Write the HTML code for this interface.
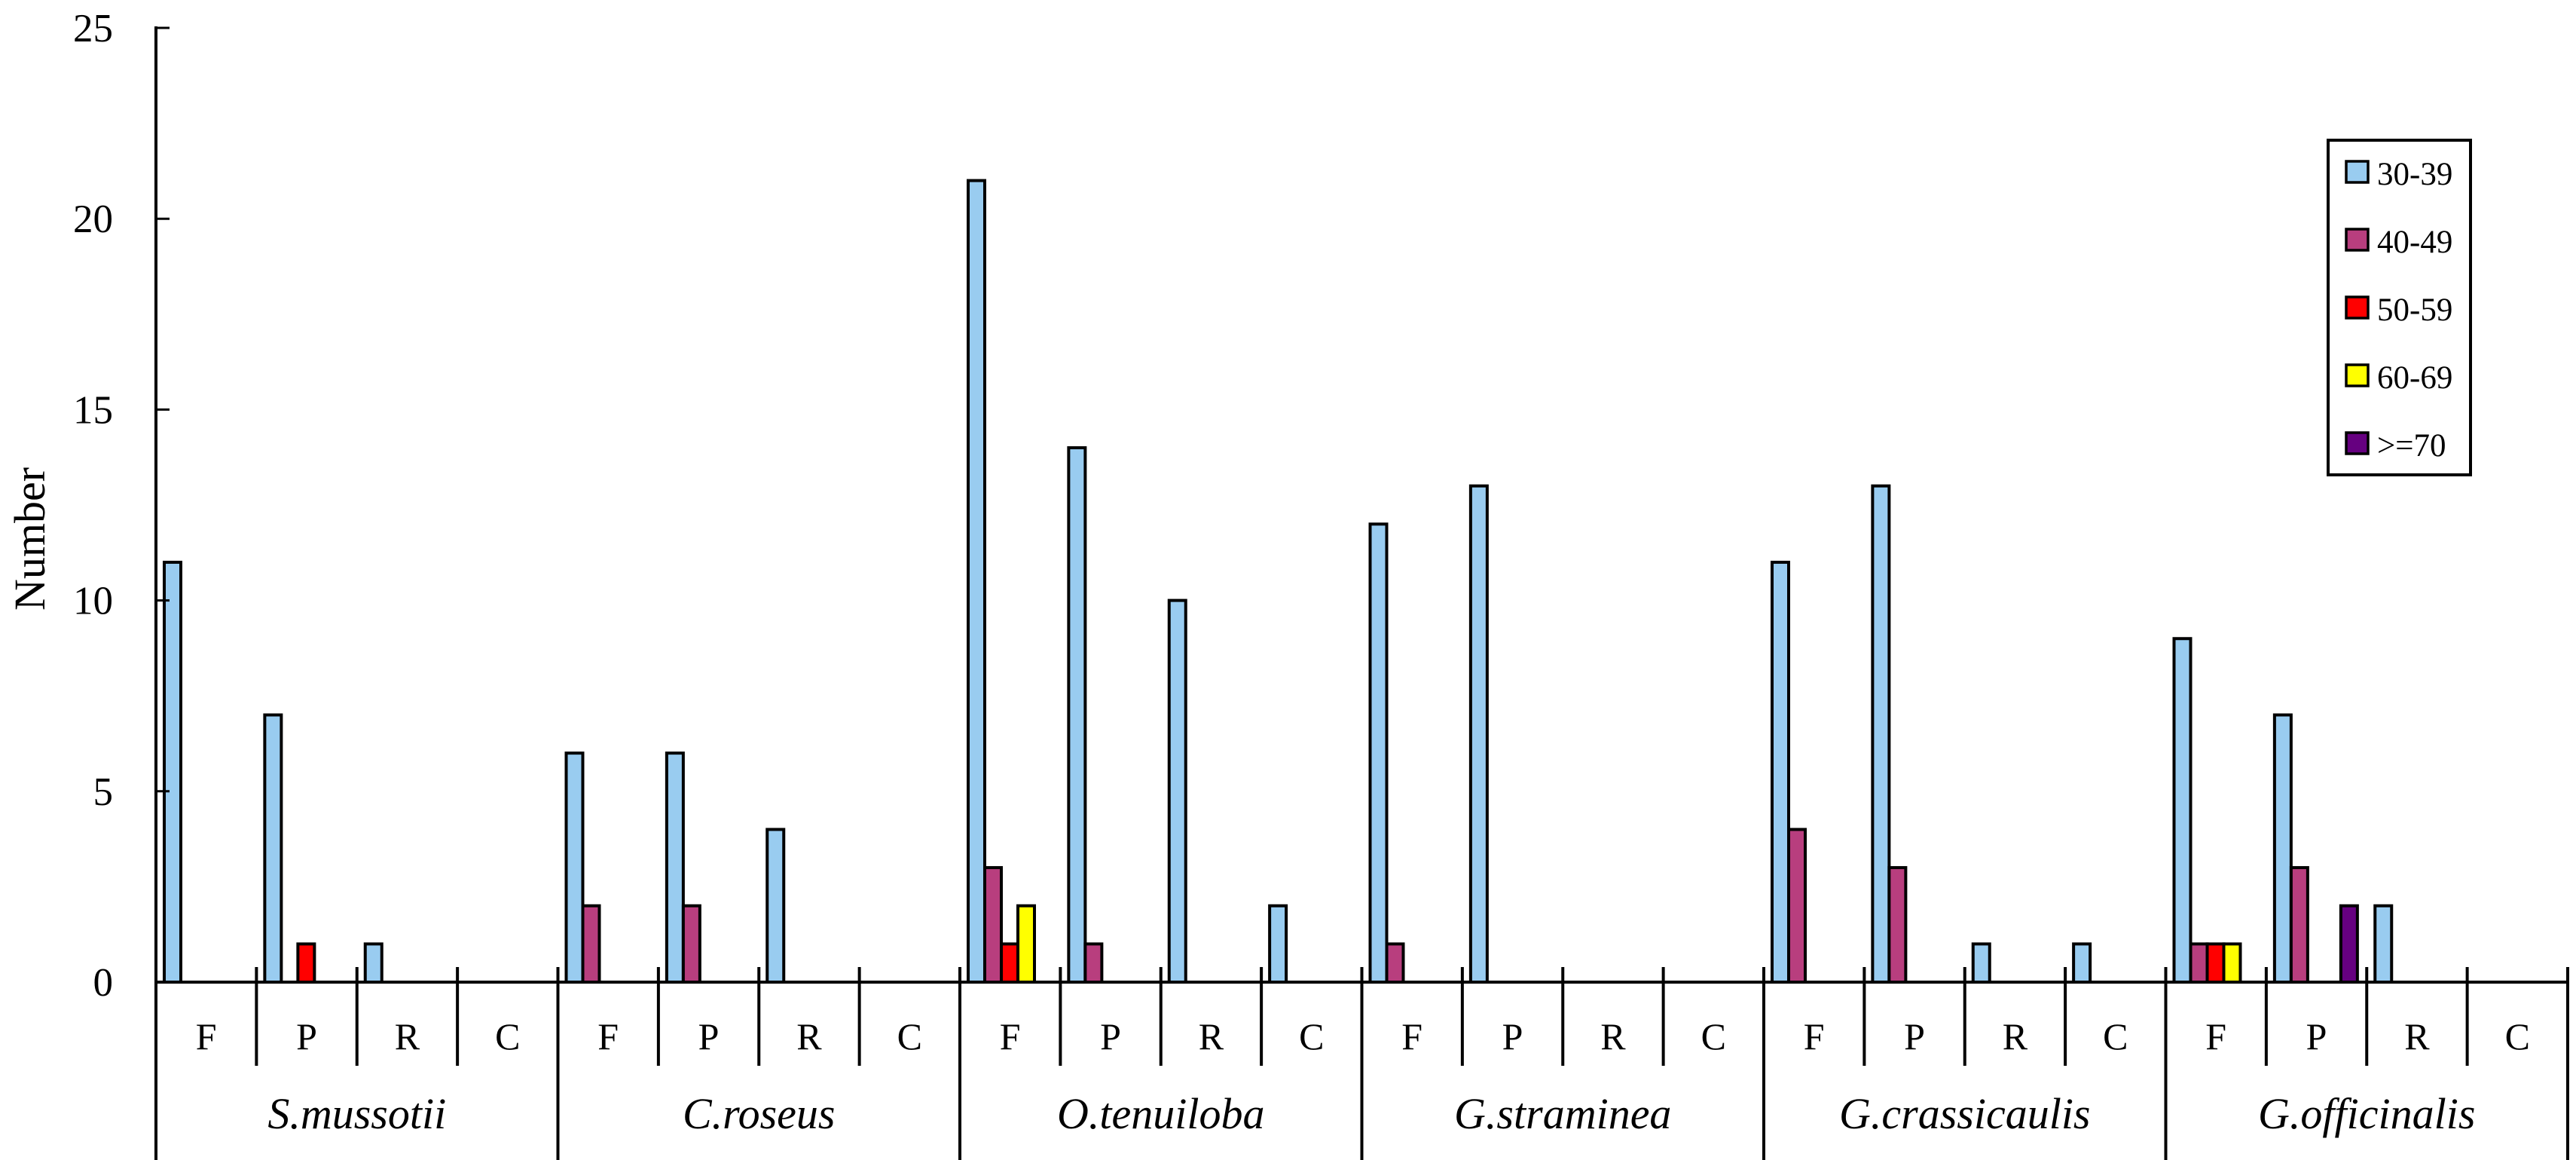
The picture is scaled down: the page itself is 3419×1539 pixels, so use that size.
<!DOCTYPE html>
<html><head><meta charset="utf-8"><style>
html,body{margin:0;padding:0;background:#fff;}
svg{display:block;font-family:"Liberation Serif",serif;}
</style></head><body>
<svg id="chart" width="3419" height="1539" viewBox="0 0 3419 1539" xmlns="http://www.w3.org/2000/svg"></svg>
<script>
const groups = ["S.mussotii","C.roseus","O.tenuiloba","G.straminea","G.crassicaulis","G.officinalis"];
const subcats = ["F","P","R","C"];
const seriesNames = ["30-39","40-49","50-59","60-69",">=70"];
const s3039 = [11,7,1,0, 6,6,4,0, 21,14,10,2, 12,13,0,0, 11,13,1,1, 9,7,2,0];
const s4049 = [0,0,0,0, 2,2,0,0, 3,1,0,0, 1,0,0,0, 4,3,0,0, 1,3,0,0];
const s5059 = [0,1,0,0, 0,0,0,0, 1,0,0,0, 0,0,0,0, 0,0,0,0, 1,0,0,0];
const s6069 = [0,0,0,0, 0,0,0,0, 2,0,0,0, 0,0,0,0, 0,0,0,0, 1,0,0,0];
const s70 = [0,0,0,0, 0,0,0,0, 0,0,0,0, 0,0,0,0, 0,0,0,0, 0,2,0,0];
const yTicks = [0,5,10,15,20,25];

const colors = ["#99CCF0","#B83E7E","#FF0000","#FFFF00","#660080"];
const series = [s3039,s4049,s5059,s6069,s70];
const NS = "http://www.w3.org/2000/svg";
const svg = document.getElementById('chart');
const X0 = 207, X1 = 3408, Y0 = 1303, YTOP = 37, YMAX = 25;
const nCat = groups.length * subcats.length;
const catW = (X1 - X0) / nCat;
const barW = 22, barOff = 11;
function yScale(v){ return Y0 - (Y0 - YTOP) * v / YMAX; }
function xCat(i){ return X0 + i * catW; }
function mk(tag, attrs, parent){
  const e = document.createElementNS(NS, tag);
  for (const k in attrs) e.setAttribute(k, attrs[k]);
  (parent || svg).appendChild(e);
  return e;
}
const barsG = mk('g', {});


for (let s = 0; s < series.length; s++) {
  for (let i = 0; i < nCat; i++) {
    const v = series[s][i];
    if (!v) continue;
    const x = xCat(i) + barOff + s * barW;
    const y = yScale(v);
    const r = mk('rect', {x: x, y: y, width: barW, height: Y0 - y, fill: colors[s], stroke: '#000', 'stroke-width': 4}, barsG);
    
    
  }
}
const ya = mk('line', {x1: X0, y1: YTOP - 2, x2: X0, y2: 1539, stroke: '#000', 'stroke-width': 4});


for (const t of yTicks) {
  const y = yScale(t);
  const tk = mk('line', {x1: X0, y1: y, x2: X0 + 18, y2: y, stroke: '#000', 'stroke-width': 3});
  
  
  const tl = mk('text', {x: 150, y: y + 18, 'text-anchor': 'end', 'font-size': 53});
  tl.textContent = t;
  
  
}
const xa = mk('line', {x1: X0, y1: Y0, x2: X1, y2: Y0, stroke: '#000', 'stroke-width': 4});


for (let i = 1; i <= nCat; i++) {
  const x = xCat(i);
  const isGroup = i % 4 === 0;
  const sep = mk('line', {x1: x, y1: Y0 - 20, x2: x, y2: isGroup ? 1539 : 1414, stroke: '#000', 'stroke-width': 4});
  
  
}
for (let i = 0; i < nCat; i++) {
  const t = mk('text', {x: xCat(i) + catW/2, y: 1392, 'text-anchor': 'middle', 'font-size': 50});
  t.textContent = subcats[i % 4];
  
  
}
for (let g = 0; g < groups.length; g++) {
  const t = mk('text', {x: xCat(g*4) + catW*2, y: 1497, 'text-anchor': 'middle', 'font-size': 58, 'font-style': 'italic'});
  t.textContent = groups[g];
  
  
}
const yt = mk('text', {x: 0, y: 0, 'text-anchor': 'middle', 'font-size': 58, transform: 'translate(59,715) rotate(-90)'});
yt.textContent = 'Number';


const lg = mk('g', {});


mk('rect', {x: 3090, y: 186, width: 189, height: 444, fill: '#fff', stroke: '#000', 'stroke-width': 4}, lg);
for (let s = 0; s < seriesNames.length; s++) {
  const cy = 228 + s * 90;
  const e = mk('g', {}, lg);
  
  
  mk('rect', {x: 3114, y: cy - 14, width: 29, height: 28, fill: colors[s], stroke: '#000', 'stroke-width': 3.5}, e);
  const t = mk('text', {x: 3155, y: cy + 17, 'font-size': 43}, e);
  t.textContent = seriesNames[s];
}
</script>
</body></html>
